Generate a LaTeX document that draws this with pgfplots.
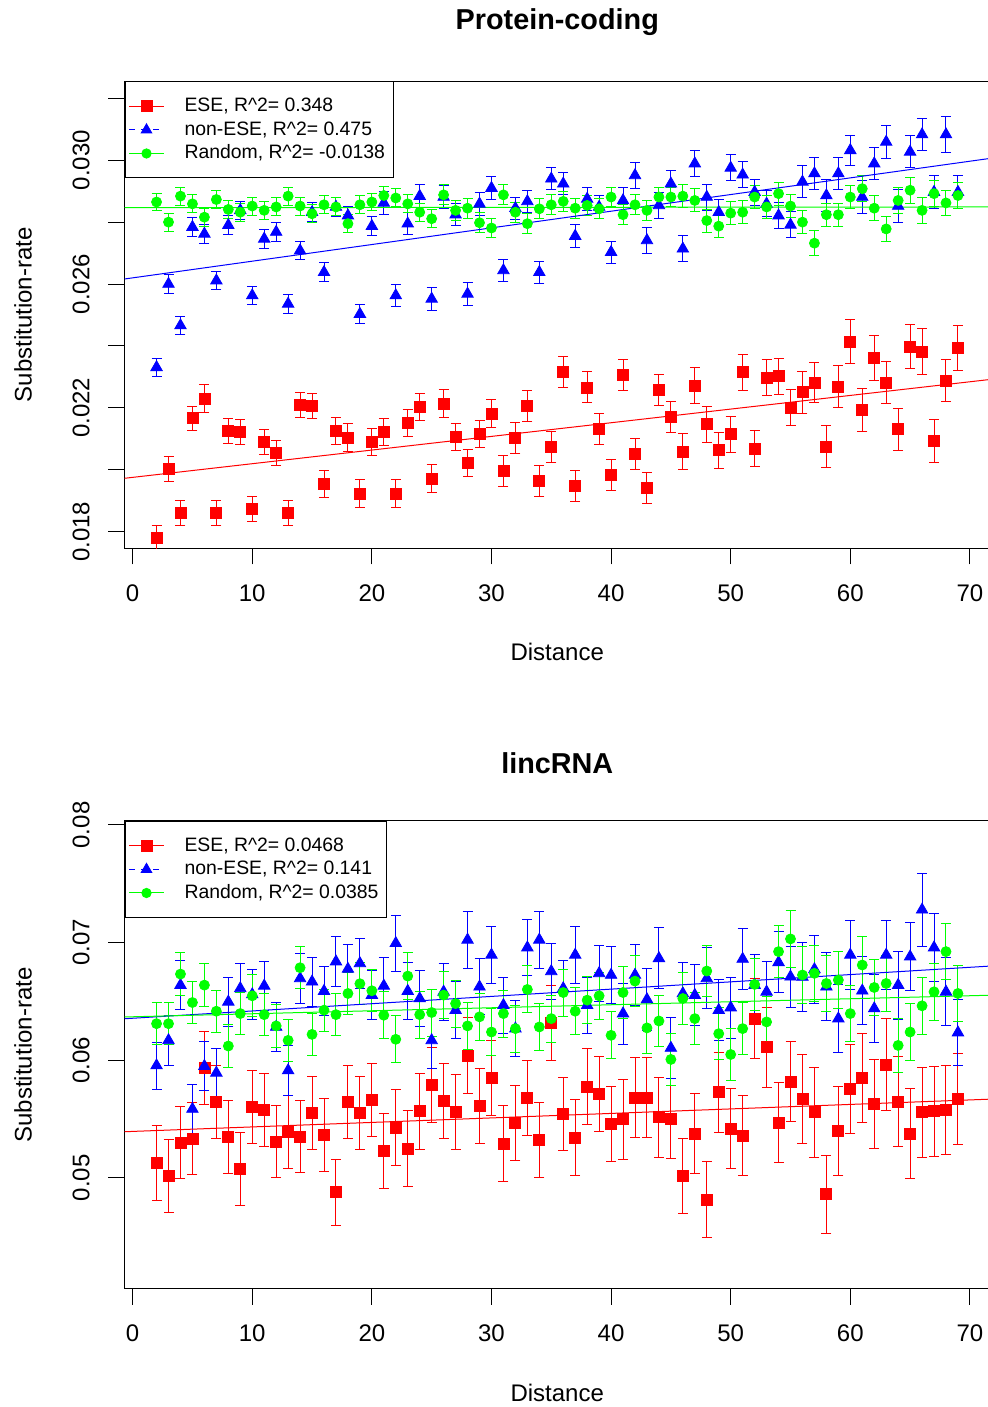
\documentclass[border=0pt]{standalone}
\usepackage{fontspec}
\setmainfont{Liberation Sans}
\usepackage{pgfplots}
\usepackage{pgfplotstable}
\pgfplotsset{compat=1.18}

% x = distance; a = ESE, b = non-ESE, c = Random; *e = error half-width
\pgfplotstableread{
x a ae b be c ce
2 0.01781 0.00039 0.02331 0.00030 0.02865 0.00029
3 0.02002 0.00040 0.02600 0.00030 0.02800 0.00029
4 0.01861 0.00040 0.02466 0.00030 0.02884 0.00029
5 0.02166 0.00040 0.02784 0.00030 0.02859 0.00029
6 0.02230 0.00046 0.02762 0.00030 0.02816 0.00029
7 0.01861 0.00040 0.02611 0.00030 0.02873 0.00029
8 0.02126 0.00040 0.02790 0.00030 0.02841 0.00029
9 0.02123 0.00040 0.02838 0.00030 0.02832 0.00029
10 0.01874 0.00040 0.02563 0.00030 0.02852 0.00029
11 0.02090 0.00040 0.02746 0.00030 0.02838 0.00029
12 0.02053 0.00040 0.02768 0.00030 0.02849 0.00029
13 0.01860 0.00040 0.02536 0.00030 0.02884 0.00029
14 0.02209 0.00040 0.02708 0.00030 0.02852 0.00029
15 0.02206 0.00040 0.02832 0.00030 0.02827 0.00029
16 0.01953 0.00044 0.02638 0.00030 0.02856 0.00029
17 0.02126 0.00044 0.02849 0.00030 0.02849 0.00029
18 0.02104 0.00044 0.02821 0.00030 0.02795 0.00029
19 0.01923 0.00044 0.02503 0.00030 0.02856 0.00029
20 0.02090 0.00044 0.02787 0.00030 0.02865 0.00029
21 0.02123 0.00044 0.02862 0.00036 0.02886 0.00029
22 0.01923 0.00044 0.02563 0.00036 0.02878 0.00029
23 0.02150 0.00044 0.02795 0.00036 0.02859 0.00029
24 0.02204 0.00044 0.02884 0.00036 0.02832 0.00029
25 0.01972 0.00044 0.02552 0.00036 0.02811 0.00029
26 0.02214 0.00044 0.02881 0.00036 0.02888 0.00032
27 0.02107 0.00044 0.02824 0.00036 0.02838 0.00032
28 0.02023 0.00044 0.02568 0.00036 0.02845 0.00032
29 0.02115 0.00044 0.02859 0.00036 0.02798 0.00032
30 0.02182 0.00044 0.02910 0.00036 0.02781 0.00032
31 0.01996 0.00050 0.02644 0.00036 0.02888 0.00032
32 0.02104 0.00050 0.02845 0.00036 0.02832 0.00032
33 0.02207 0.00050 0.02867 0.00036 0.02795 0.00032
34 0.01964 0.00050 0.02638 0.00036 0.02843 0.00032
35 0.02075 0.00050 0.02940 0.00036 0.02856 0.00032
36 0.02315 0.00050 0.02924 0.00036 0.02867 0.00032
37 0.01948 0.00050 0.02755 0.00036 0.02845 0.00032
38 0.02266 0.00050 0.02875 0.00036 0.02854 0.00032
39 0.02131 0.00050 0.02849 0.00036 0.02843 0.00032
40 0.01982 0.00050 0.02703 0.00036 0.02881 0.00032
41 0.02306 0.00050 0.02870 0.00042 0.02824 0.00032
42 0.02050 0.00050 0.02951 0.00042 0.02856 0.00032
43 0.01942 0.00050 0.02741 0.00042 0.02838 0.00032
44 0.02259 0.00050 0.02854 0.00042 0.02881 0.00032
45 0.02171 0.00050 0.02924 0.00042 0.02881 0.00032
46 0.02058 0.00058 0.02714 0.00042 0.02884 0.00037
47 0.02272 0.00058 0.02989 0.00042 0.02870 0.00037
48 0.02147 0.00058 0.02881 0.00042 0.02805 0.00037
49 0.02063 0.00058 0.02832 0.00042 0.02787 0.00037
50 0.02115 0.00058 0.02975 0.00042 0.02829 0.00037
51 0.02315 0.00058 0.02953 0.00042 0.02832 0.00037
52 0.02069 0.00058 0.02897 0.00042 0.02881 0.00037
53 0.02298 0.00058 0.02859 0.00042 0.02849 0.00037
54 0.02302 0.00058 0.02821 0.00042 0.02892 0.00037
55 0.02201 0.00058 0.02791 0.00042 0.02852 0.00037
56 0.02250 0.00068 0.02930 0.00052 0.02800 0.00037
57 0.02282 0.00064 0.02957 0.00052 0.02732 0.00040
58 0.02074 0.00068 0.02886 0.00052 0.02824 0.00037
59 0.02269 0.00068 0.02957 0.00052 0.02824 0.00037
60 0.02414 0.00070 0.03032 0.00049 0.02881 0.00037
61 0.02193 0.00068 0.02881 0.00052 0.02908 0.00041
62 0.02362 0.00073 0.02989 0.00052 0.02845 0.00041
63 0.02282 0.00068 0.03059 0.00052 0.02778 0.00041
64 0.02131 0.00068 0.02852 0.00052 0.02870 0.00041
65 0.02398 0.00072 0.03027 0.00052 0.02903 0.00042
66 0.02382 0.00075 0.03083 0.00052 0.02838 0.00041
67 0.02093 0.00068 0.02897 0.00052 0.02892 0.00041
68 0.02288 0.00068 0.03083 0.00058 0.02862 0.00041
69 0.02393 0.00072 0.02897 0.00052 0.02886 0.00041
}\protein

\pgfplotstableread{
x a ae b be c ce
2 0.05123 0.0032 0.05954 0.0020 0.06310 0.0018
3 0.05014 0.0031 0.06168 0.0021 0.06310 0.0018
4 0.05299 0.0031 0.06638 0.0021 0.06732 0.0018
5 0.05333 0.0031 0.05584 0.0021 0.06490 0.0018
6 0.05934 0.0031 0.05949 0.0021 0.06638 0.0018
7 0.05647 0.0031 0.05892 0.0021 0.06416 0.0018
8 0.05348 0.0031 0.06496 0.0021 0.06120 0.0018
9 0.05077 0.0031 0.06610 0.0021 0.06396 0.0018
10 0.05598 0.0031 0.06558 0.0021 0.06547 0.0018
11 0.05578 0.0031 0.06632 0.0021 0.06387 0.0018
12 0.05308 0.0031 0.06282 0.0021 0.06291 0.0018
13 0.05390 0.0031 0.05912 0.0021 0.06168 0.0018
14 0.05350 0.0031 0.06695 0.0021 0.06786 0.0018
15 0.05547 0.0031 0.06667 0.0021 0.06219 0.0018
16 0.05365 0.0031 0.06587 0.0021 0.06425 0.0018
17 0.04877 0.0028 0.06838 0.0021 0.06387 0.0018
18 0.05641 0.0031 0.06775 0.0021 0.06567 0.0018
19 0.05547 0.0031 0.06823 0.0021 0.06650 0.0018
20 0.05661 0.0031 0.06553 0.0021 0.06590 0.0018
21 0.05228 0.0032 0.06632 0.0024 0.06382 0.0020
22 0.05427 0.0032 0.06994 0.0024 0.06177 0.0020
23 0.05248 0.0032 0.06587 0.0024 0.06715 0.0020
24 0.05564 0.0032 0.06524 0.0024 0.06387 0.0020
25 0.05789 0.0032 0.06168 0.0024 0.06405 0.0020
26 0.05650 0.0032 0.06581 0.0024 0.06553 0.0020
27 0.05556 0.0032 0.06425 0.0024 0.06481 0.0020
28 0.06040 0.0032 0.07023 0.0024 0.06291 0.0020
29 0.05607 0.0032 0.06624 0.0024 0.06368 0.0020
30 0.05849 0.0032 0.06895 0.0024 0.06239 0.0020
31 0.05291 0.0032 0.06467 0.0024 0.06396 0.0020
32 0.05464 0.0032 0.06268 0.0024 0.06268 0.0020
33 0.05681 0.0032 0.06957 0.0024 0.06601 0.0020
34 0.05322 0.0032 0.07023 0.0024 0.06282 0.0020
35 0.06316 0.0032 0.06755 0.0024 0.06353 0.0020
36 0.05541 0.0031 0.06610 0.0024 0.06575 0.0020
37 0.05342 0.0032 0.06895 0.0024 0.06416 0.0020
38 0.05775 0.0032 0.06467 0.0024 0.06510 0.0020
39 0.05712 0.0032 0.06738 0.0024 0.06547 0.0020
40 0.05456 0.0032 0.06724 0.0024 0.06211 0.0020
41 0.05499 0.0034 0.06396 0.0026 0.06575 0.0022
42 0.05681 0.0034 0.06724 0.0026 0.06672 0.0022
43 0.05681 0.0034 0.06516 0.0026 0.06274 0.0022
44 0.05513 0.0034 0.06866 0.0026 0.06333 0.0022
45 0.05504 0.0034 0.06103 0.0026 0.06006 0.0022
46 0.05014 0.0032 0.06567 0.0026 0.06524 0.0022
47 0.05376 0.0034 0.06553 0.0026 0.06353 0.0022
48 0.04815 0.0032 0.06695 0.0026 0.06758 0.0022
49 0.05726 0.0034 0.06425 0.0026 0.06225 0.0022
50 0.05419 0.0034 0.06447 0.0026 0.06048 0.0022
51 0.05356 0.0034 0.06860 0.0026 0.06268 0.0022
52 0.06353 0.0034 0.06638 0.0026 0.06644 0.0022
53 0.06111 0.0034 0.06581 0.0026 0.06325 0.0022
54 0.05470 0.0034 0.06832 0.0026 0.06923 0.0022
55 0.05818 0.0034 0.06709 0.0026 0.07031 0.0024
56 0.05670 0.0038 0.06707 0.0029 0.06724 0.0024
57 0.05556 0.0038 0.06772 0.0029 0.06738 0.0024
58 0.04858 0.0033 0.06624 0.0029 0.06652 0.0024
59 0.05399 0.0038 0.06353 0.0029 0.06681 0.0024
60 0.05755 0.0038 0.06895 0.0029 0.06396 0.0024
61 0.05849 0.0038 0.06590 0.0029 0.06809 0.0024
62 0.05627 0.0038 0.06439 0.0029 0.06618 0.0024
63 0.05963 0.0039 0.06895 0.0029 0.06652 0.0024
64 0.05647 0.0038 0.06638 0.0029 0.06125 0.0023
65 0.05376 0.0038 0.06880 0.0029 0.06239 0.0024
66 0.05556 0.0038 0.07279 0.0031 0.06462 0.0024
67 0.05564 0.0038 0.06957 0.0029 0.06581 0.0024
68 0.05578 0.0038 0.06581 0.0029 0.06923 0.0024
69 0.05670 0.0039 0.06234 0.0028 0.06567 0.0024
}\lincrna

\pgfplotsset{
  rpanel/.style={
    scale only axis, width=432.75pt,
    anchor=south west,
    xmin=-0.68, xmax=71.68,
    xtick={0,10,20,30,40,50,60,70},
    xticklabels={0,10,20,30,40,50,60,70},
    scaled y ticks=false,
    axis line style={black, line width=0.5pt},
    tick align=outside, major tick length=8pt,
    xtick pos=left, ytick pos=left,
    tick style={black, line width=0.5pt},
    tick label style={font=\fontsize{12}{14}\selectfont},
    xticklabel style={anchor=center, yshift=-14.35pt},
    yticklabel style={anchor=center, xshift=-13.75pt, rotate=90},
    label style={font=\fontsize{12}{14}\selectfont},
    xlabel={Distance},
    xlabel style={at={(axis description cs:0.5,-0.2222)}, anchor=center},
    ylabel={Substitution-rate},
    ylabel style={at={(axis description cs:-0.1173,0.5)}, anchor=center},
    title style={font=\bfseries\fontsize{14.4}{17}\selectfont, anchor=center},
    legend style={at={(axis description cs:0,1)}, anchor=north west,
      draw=black, line width=0.5pt, fill=white,
      font=\fontsize{9.7}{11}\selectfont,
      inner xsep=4pt, inner ysep=7.5pt, row sep=2.25pt,
      nodes={inner sep=0pt, text height=7.5pt, text depth=2pt}},
    legend cell align=left,
    legend image code/.code={
      \draw[##1, mark=none, overlay] (-2.25pt,0pt) -- (15.25pt,0pt);
      \draw[##1, overlay] plot coordinates {(6.5pt,0pt)};
      \path (0pt,0pt) (25.25pt,0pt);
    },
  },
  ese/.style={only marks, color=red, mark=square*, mark size=2.75pt,
    mark options={fill=red, draw=red}, forget plot,
    error bars/.cd, y dir=both, y explicit,
    error bar style={line width=0.5pt, red},
    error mark options={rotate=90, mark size=2.5pt, line width=0.5pt, red}},
  nonese/.style={only marks, color=blue, mark=triangle*, mark size=3.3pt,
    mark options={fill=blue, draw=blue}, forget plot,
    error bars/.cd, y dir=both, y explicit,
    error bar style={line width=0.5pt, blue},
    error mark options={rotate=90, mark size=2.5pt, line width=0.5pt, blue}},
  rnd/.style={only marks, color=green, mark=*, mark size=2.5pt,
    mark options={fill=green, draw=green}, forget plot,
    error bars/.cd, y dir=both, y explicit,
    error bar style={line width=0.5pt, green},
    error mark options={rotate=90, mark size=2.5pt, line width=0.5pt, green}},
}

\begin{document}
\begin{tikzpicture}
\useasboundingbox (0,0) rectangle (494pt,703.5pt);

% ---- Protein-coding ----
\begin{axis}[rpanel,
  at={(62.25pt,429.35pt)}, height=233.4pt,
  ymin=0.017464, ymax=0.032543,
  ytick={0.018,0.020,0.022,0.024,0.026,0.028,0.030,0.032},
  yticklabels={0.018,,0.022,,0.026,,0.030,},
  title={Protein-coding}, title style={at={(0.5,1.1018)}},
]
\addlegendimage{red, line width=0.5pt, mark=square*, mark size=2.75pt, mark options={solid, fill=red}}
\addlegendentry{ESE, R\^{}2= 0.348}
\addlegendimage{blue, line width=0.5pt, dash pattern=on 3pt off 3pt, mark=triangle*, mark size=3pt, mark options={solid, fill=blue}}
\addlegendentry{non-ESE, R\^{}2= 0.475}
\addlegendimage{green, line width=0.5pt, mark=*, mark size=2.3pt, mark options={solid, fill=green}}
\addlegendentry{Random, R\^{}2= -0.0138}

\addplot[ese] table[x=x, y=a, y error=ae] {\protein};
\addplot[nonese] table[x=x, y=b, y error=be] {\protein};
\addplot[rnd] table[x=x, y=c, y error=ce] {\protein};

% fitted lines
\addplot[red, line width=0.5pt, forget plot] coordinates {(-0.68,0.019725) (71.68,0.022917)};
\addplot[blue, line width=0.5pt, forget plot] coordinates {(-0.68,0.026163) (71.68,0.030058)};
\addplot[green, line width=0.5pt, forget plot] coordinates {(-0.68,0.028466) (71.68,0.028490)};
\end{axis}

% ---- lincRNA ----
\begin{axis}[rpanel,
  at={(62.25pt,59pt)}, height=234pt,
  ymin=0.040533, ymax=0.08034,
  ytick={0.05,0.06,0.07,0.08},
  yticklabels={0.05,0.06,0.07,0.08},
  title={lincRNA}, title style={at={(0.5,1.0984)}},
]
\addlegendimage{red, line width=0.5pt, mark=square*, mark size=2.75pt, mark options={solid, fill=red}}
\addlegendentry{ESE, R\^{}2= 0.0468}
\addlegendimage{blue, line width=0.5pt, dash pattern=on 3pt off 3pt, mark=triangle*, mark size=3pt, mark options={solid, fill=blue}}
\addlegendentry{non-ESE, R\^{}2= 0.141}
\addlegendimage{green, line width=0.5pt, mark=*, mark size=2.3pt, mark options={solid, fill=green}}
\addlegendentry{Random, R\^{}2= 0.0385}

\addplot[ese] table[x=x, y=a, y error=ae] {\lincrna};
\addplot[nonese] table[x=x, y=b, y error=be] {\lincrna};
\addplot[rnd] table[x=x, y=c, y error=ce] {\lincrna};

\addplot[red, line width=0.5pt, forget plot] coordinates {(-0.68,0.05391) (71.68,0.05668)};
\addplot[blue, line width=0.5pt, forget plot] coordinates {(-0.68,0.06352) (71.68,0.06800)};
\addplot[green, line width=0.5pt, forget plot] coordinates {(-0.68,0.06367) (71.68,0.06552)};
\end{axis}
\end{tikzpicture}
\end{document}
